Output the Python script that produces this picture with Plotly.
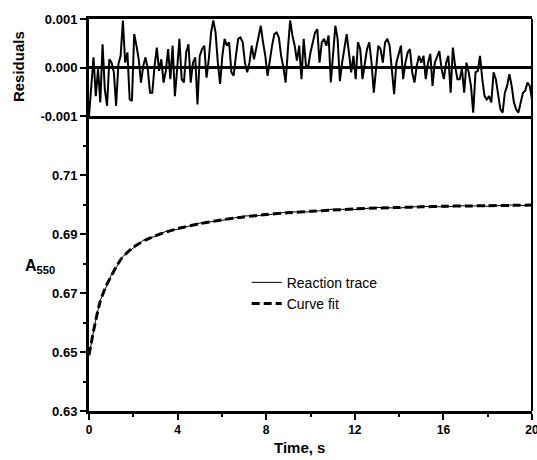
import numpy as np
import plotly.graph_objects as go

fit_time = [0, 0.1, 0.2, 0.3, 0.4, 0.5, 0.75, 1.0, 1.25, 1.5, 2.0, 2.5, 3.0, 3.5, 4.0,
            5, 6, 7, 8, 9, 10, 11, 12, 13, 14, 15, 16, 17, 18, 19, 20]
fit_a550 = [0.649, 0.653, 0.657, 0.6605, 0.664, 0.667, 0.672, 0.6757, 0.6792, 0.6820,
            0.6855, 0.6878, 0.6894, 0.6907, 0.6918, 0.6935, 0.6948, 0.6958, 0.6966,
            0.6972, 0.6977, 0.6981, 0.6985, 0.6988, 0.6990, 0.6992, 0.6994, 0.6995,
            0.6996, 0.6997, 0.6998]
trace_a550 = [0.6487, 0.6534, 0.6568, 0.6607, 0.6638, 0.6674, 0.6716, 0.6760, 0.6789,
              0.6822, 0.6853, 0.6881, 0.6892, 0.6910, 0.6916, 0.6937, 0.6946, 0.6961,
              0.6964, 0.6975, 0.6975, 0.6984, 0.6983, 0.6990, 0.6988, 0.6994, 0.6992,
              0.6996, 0.6994, 0.6998, 0.6996]

# residuals, in units of 0.001 absorbance
residuals_milli = [
    -1.00, -0.45, 0.21, -0.59, -0.03, -0.72, 0.48, -0.45, -0.79, 0.17,
    0.10, -0.10, -0.79, 0.07, 0.24, 0.97, 0.10, 0.31, -0.66, -0.69,
    0.69, 0.45, 0.17, -0.31, 0.03, 0.21, -0.03, -0.52, -0.52, 0.03,
    0.41, -0.07, 0.17, -0.31, -0.07, 0.38, -0.24, 0.45, -0.59, -0.03,
    0.59, -0.24, -0.31, 0.31, 0.48, -0.31, 0.10, 0.21,
    -0.76, 0.24, 0.38, 0.45, -0.21, 0.17, 0.72, 0.97, 0.72, 0.10,
    -0.34, 0.24, 0.59, 0.45, 0.52, -0.10, -0.17, 0.24, 0.59, 0.62,
    0.52, 0.10, -0.10, 0.10, 0.45, 0.17, 0.38, 0.66, 0.86, 0.52,
    0.24, -0.17, 0.17, 0.45, 0.69, 0.72, 0.62, 0.24, 0.00, -0.31,
    0.38, 0.97, 0.66, 0.45, 0.14, 0.45, -0.24, 0.59, 0.03,
    0.03, 0.31, 0.52, 0.72, 0.79, 0.10, 0.52, 0.59, 0.45, 0.66,
    -0.31, 0.38, 0.86, 0.59, -0.28, 0.10, 0.45, 0.69, 0.31, -0.10,
    0.24, -0.24, 0.52, 0.38, -0.24, 0.10, 0.38, 0.52, 0.10, -0.52,
    -0.03, 0.45, 0.38, 0.10, 0.52, 0.59, 0.45, -0.03, -0.55, 0.10,
    0.31, 0.45, -0.24, 0.10, 0.31, 0.38, -0.10, -0.31, 0.03, 0.24,
    0.10, 0.24, -0.24, 0.10, 0.28, -0.38, 0.10, 0.24, 0.34, -0.03,
    -0.24, 0.10, 0.24, -0.52, 0.41, 0.03, -0.24, -0.24, -0.03, -0.52,
    0.10, -0.10, -0.38, -0.93, -0.10, -0.07, 0.24, -0.24, -0.59, -0.66,
    -0.59, -0.72, -0.10, -0.24, -0.59, -0.86, -0.93, -0.52, -0.38, -0.14,
    -0.38, -0.72, -0.86, -0.93, -0.72, -0.52, -0.48, -0.31, -0.38, -0.66,
]
res_time = np.linspace(0, 20, len(residuals_milli))
residuals = np.array(residuals_milli) / 1000

bold = dict(family="Arial, Liberation Sans, sans-serif", size=13, color="black", weight="bold")

fig = go.Figure()

fig.add_trace(go.Scatter(x=res_time, y=residuals, mode="lines",
                         line=dict(color="black", width=2),
                         xaxis="x2", yaxis="y2", showlegend=False))

fig.add_trace(go.Scatter(x=fit_time, y=trace_a550, mode="lines", name="Reaction trace",
                         line=dict(color="black", width=1)))
fig.add_trace(go.Scatter(x=fit_time, y=fit_a550, mode="lines", name="Curve fit",
                         line=dict(color="black", width=3, dash="8px,4px", shape="spline",
                                   smoothing=0.6)))

split = 1 - 97 / 392

fig.update_layout(
    width=537, height=460,
    margin=dict(l=89, r=5, t=19, b=49, autoexpand=False),
    paper_bgcolor="white", plot_bgcolor="white",
    font=dict(family="Arial, Liberation Sans, sans-serif", color="black"),
    xaxis=dict(domain=[0, 1], range=[0, 20], anchor="y", automargin=False,
               showgrid=False, zeroline=False,
               showline=True, linecolor="black", linewidth=3,
               ticks="outside", ticklen=6, tickwidth=2, tickcolor="black",
               tickvals=[0, 4, 8, 12, 16, 20], tickfont=dict(bold, size=12),
               ticklabeloverflow="allow",
               minor=dict(tickvals=[2, 6, 10, 14, 18], ticks="outside",
                          ticklen=3, tickwidth=2, tickcolor="black")),
    yaxis=dict(domain=[0, split], range=[0.63, 0.73], anchor="x", automargin=False,
               showgrid=False, zeroline=False,
               showline=True, linecolor="black", linewidth=3,
               ticks="outside", ticklen=6, tickwidth=2, tickcolor="black",
               tickvals=[0.63, 0.65, 0.67, 0.69, 0.71],
               ticktext=["0.63", "0.65", "0.67", "0.69", "0.71"], tickfont=bold,
               minor=dict(tickvals=[0.64, 0.66, 0.68, 0.70, 0.72], ticks="outside",
                          ticklen=3, tickwidth=2, tickcolor="black")),
    xaxis2=dict(domain=[0, 1], range=[0, 20], anchor="y2", matches="x", automargin=False,
                showgrid=False, zeroline=False, showticklabels=False, ticks="",
                showline=True, mirror=True, linecolor="black", linewidth=3),
    yaxis2=dict(domain=[split, 1], range=[-0.001, 0.001], anchor="x2", automargin=False,
                showgrid=False, zeroline=True, zerolinecolor="black", zerolinewidth=3,
                showline=True, linecolor="black", linewidth=3,
                ticks="outside", ticklen=6, tickwidth=2, tickcolor="black",
                tickvals=[-0.001, 0, 0.001], ticktext=["-0.001", "0.000", "0.001"],
                tickfont=bold),
    legend=dict(x=0.356, y=0.368, xanchor="left", yanchor="top",
                bgcolor="rgba(0,0,0,0)", font=dict(size=14, color="black"),
                tracegroupgap=0, itemwidth=30),
    showlegend=True,
)

# right border of both panels
fig.add_shape(type="line", xref="paper", yref="paper", x0=1, x1=1, y0=0, y1=1,
              line=dict(color="black", width=2))

fig.add_annotation(text="Residuals", xref="paper", yref="paper",
                   x=-0.16, y=(411 - 67) / 392, textangle=-90, showarrow=False,
                   xanchor="center", yanchor="middle", font=dict(bold, size=15))
fig.add_annotation(text="A<sub>550</sub>", xref="paper", yref="paper",
                   x=-0.11, y=(411 - 266) / 392, showarrow=False,
                   xanchor="center", yanchor="middle", font=dict(bold, size=16))
fig.add_annotation(text="Time, s", xref="paper", yref="paper",
                   x=0.476, y=(411 - 447) / 392, showarrow=False,
                   xanchor="center", yanchor="middle", font=dict(bold, size=15))

fig.write_html("out.html", config={"displayModeBar": False},
               post_script="document.body.style.margin='0';")
